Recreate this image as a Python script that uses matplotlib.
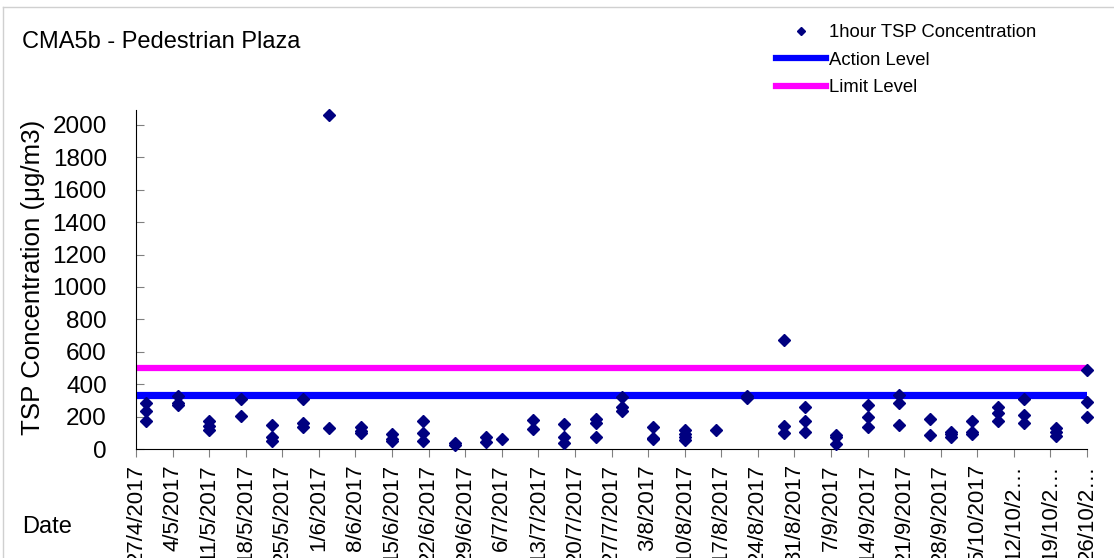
import numpy as np
import pandas as pd
import matplotlib
matplotlib.use('Agg')
import matplotlib.pyplot as plt
from matplotlib.lines import Line2D

plt.rcParams['font.family'] = ['Liberation Sans', 'DejaVu Sans']

# 1-hour TSP readings (several per sampling day)
sample_dates = (
    ['29/4/2017'] * 3 + ['5/5/2017'] * 3 + ['11/5/2017'] * 3 + ['17/5/2017'] * 2 +
    ['23/5/2017'] * 3 + ['29/5/2017'] * 3 + ['3/6/2017'] * 2 + ['9/6/2017'] * 3 +
    ['15/6/2017'] * 3 + ['21/6/2017'] * 3 + ['27/6/2017'] * 2 + ['3/7/2017'] * 2 +
    ['6/7/2017'] * 1 + ['12/7/2017'] * 2 + ['18/7/2017'] * 3 + ['24/7/2017'] * 3 +
    ['29/7/2017'] * 3 + ['4/8/2017'] * 3 + ['10/8/2017'] * 4 + ['16/8/2017'] * 1 +
    ['22/8/2017'] * 2 + ['29/8/2017'] * 3 + ['2/9/2017'] * 3 + ['8/9/2017'] * 3 +
    ['14/9/2017'] * 3 + ['20/9/2017'] * 3 + ['26/9/2017'] * 2 + ['30/9/2017'] * 3 +
    ['4/10/2017'] * 3 + ['9/10/2017'] * 3 + ['14/10/2017'] * 3 + ['20/10/2017'] * 3 +
    ['26/10/2017'] * 3
)
tsp_values = [
    282, 237, 171,   330, 283, 272,   171, 142, 117,   307, 202,
    148, 72, 51,     309, 163, 134,   2060, 132,       138, 113, 97,
    91, 60, 47,      173, 101, 47,    35, 25,          72, 45,
    60,              179, 121,        156, 76, 37,     183, 158, 74,
    323, 261, 235,   138, 70, 64,     117, 93, 72, 56, 115,
    325, 312,        671, 144, 101,   257, 175, 105,   86, 72, 29,
    270, 200, 134,   333, 282, 146,   185, 88,          107, 93, 72,
    173, 107, 93,    257, 220, 175,   309, 210, 158,   128, 103, 82,
    486, 292, 200,
]

action_level = 333
limit_level = 500

tick_dates = ['27/4/2017', '4/5/2017', '11/5/2017', '18/5/2017', '25/5/2017',
              '1/6/2017', '8/6/2017', '15/6/2017', '22/6/2017', '29/6/2017',
              '6/7/2017', '13/7/2017', '20/7/2017', '27/7/2017', '3/8/2017',
              '10/8/2017', '17/8/2017', '24/8/2017', '31/8/2017', '7/9/2017',
              '14/9/2017', '21/9/2017', '28/9/2017', '5/10/2017', '12/10/2017',
              '19/10/2017', '26/10/2017']
tick_labels = tick_dates[:24] + ['12/10/2\u2026', '19/10/2\u2026', '26/10/2\u2026']

x = pd.to_datetime(sample_dates, format='%d/%m/%Y')
xt = pd.to_datetime(tick_dates, format='%d/%m/%Y')
x0, x1 = xt[0], xt[-1]

fig = plt.figure(figsize=(11.14, 5.58), dpi=100)
ax = fig.add_axes([136 / 1114, 1 - 449 / 558, (1087 - 136) / 1114, 338.6 / 558])

ax.plot([x0, x1], [action_level, action_level], color='#0000FF', lw=5.2,
        solid_capstyle='butt', zorder=2)
ax.plot([x0, x1], [limit_level, limit_level], color='#FF00FF', lw=4.5,
        solid_capstyle='butt', zorder=2)
ax.plot(x, tsp_values, linestyle='none', marker='D', markersize=6.3,
        color='#000080', zorder=3, clip_on=False)

ax.set_xlim(x0, x1)
ax.set_ylim(0, 2090)
ax.set_yticks(np.arange(0, 2001, 200))
ax.set_xticks(xt)
ax.set_xticklabels(tick_labels, rotation=90, va='top', ha='center')

ax.spines['top'].set_visible(False)
ax.spines['right'].set_visible(False)
ax.spines['left'].set_color('black')
ax.spines['bottom'].set_color('black')
ax.tick_params(axis='y', direction='in', length=6, color='#808080', pad=21,
               labelsize=17.5)
ax.tick_params(axis='x', direction='out', length=6, color='#808080', pad=5,
               labelsize=16)

ax.set_ylabel('TSP Concentration (\u03bcg/m3)', fontsize=18.6)
ax.yaxis.set_label_coords(-0.0957, 0.5065)

fig.text(22 / 1114, 1 - 42 / 558, 'CMA5b - Pedestrian Plaza', fontsize=17,
         va='center', ha='left')
fig.text(22 / 1114, 1 - 527 / 558, 'Date', fontsize=17, va='center', ha='left')

handles = [
    Line2D([], [], linestyle='none', marker='D', markersize=3.8, color='#000080'),
    Line2D([], [], color='#0000FF', lw=4.5),
    Line2D([], [], color='#FF00FF', lw=4.5),
]
fig.legend(handles, ['1hour TSP Concentration', 'Action Level', 'Limit Level'],
           loc='upper left', bbox_to_anchor=(776 / 1114, 1 - 24 / 558),
           frameon=False, fontsize=13.3, handlelength=2.7, handletextpad=0.15,
           labelspacing=0.57, borderpad=0, borderaxespad=0)

# light outer border
fig.add_artist(Line2D([3 / 1114, 3 / 1114], [0, 1 - 7 / 558], color='#D0D0D0', lw=1))
fig.add_artist(Line2D([3 / 1114, 1], [1 - 7 / 558, 1 - 7 / 558], color='#D0D0D0', lw=1))

fig.savefig('out.png', dpi=100)
